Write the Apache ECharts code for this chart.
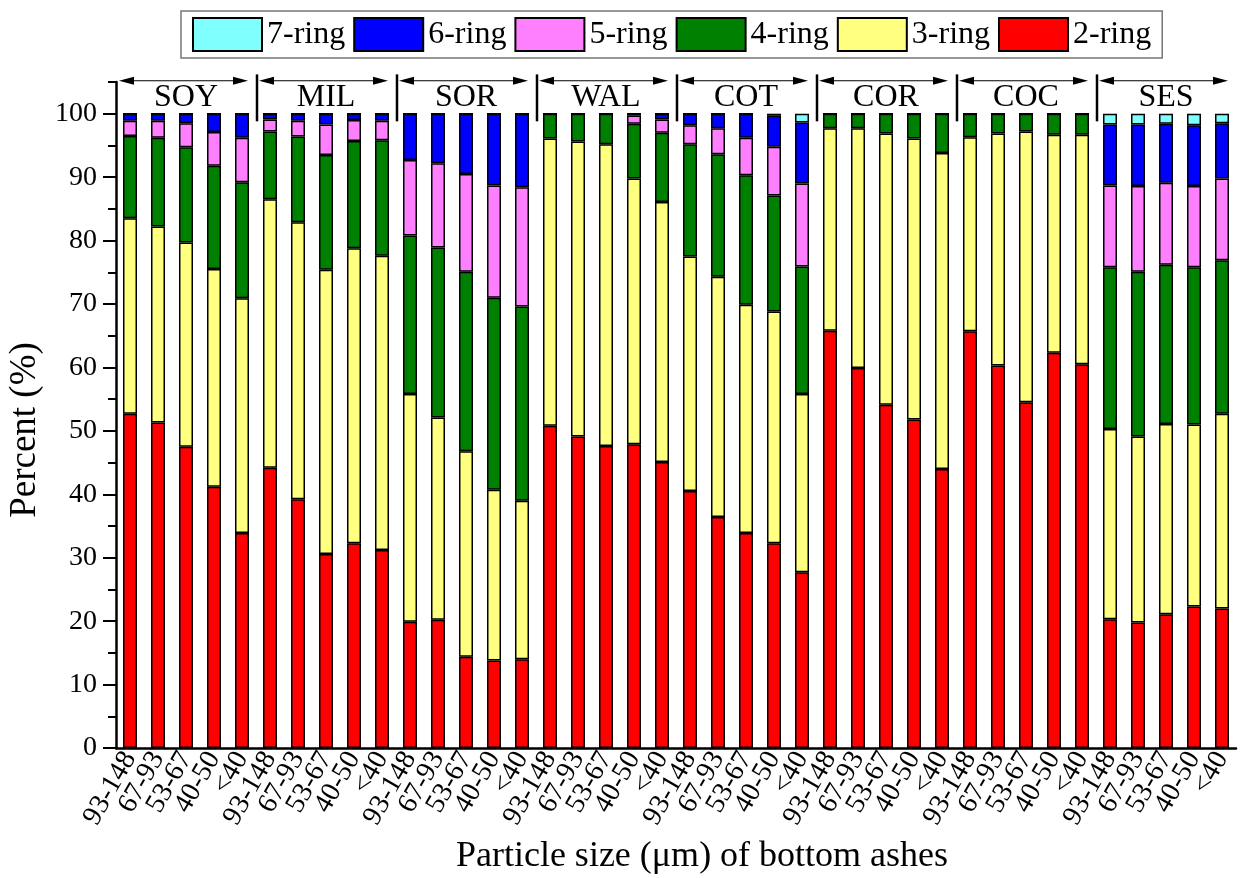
<!DOCTYPE html>
<html>
<head>
<meta charset="utf-8">
<script src="https://cdn.jsdelivr.net/npm/echarts@6/dist/echarts.min.js"></script>
<style>
  html, body { margin: 0; padding: 0; background: #fff; }
  #chart { width: 1241px; height: 878px; }
</style>
</head>
<body>
<div id="chart"></div>
<script>
  // fuel groups and particle size classes (um)
  var groups = ['SOY', 'MIL', 'SOR', 'WAL', 'COT', 'COR', 'COC', 'SES'];
  var sizes = ['93-148', '67-93', '53-67', '40-50', '<40'];
  var yTicks = [0, 10, 20, 30, 40, 50, 60, 70, 80, 90, 100];

  // percent of each ring class, 5 sizes per group, groups in order above
  var ring2 = [52.7, 51.3, 47.5, 41.2, 33.9,  44.2, 39.2, 30.6, 32.3, 31.2,  19.9, 20.2, 14.4, 13.8, 14.0,
               50.8, 49.1, 47.6, 47.9, 45.1,  40.5, 36.4, 33.9, 32.3, 27.7,  65.8, 59.9, 54.1, 51.8, 44.0,
               65.7, 60.3, 54.5, 62.3, 60.5,  20.3, 19.8, 21.1, 22.3, 22.0];
  var ring3 = [30.8, 30.9, 32.2, 34.3, 37.0,  42.3, 43.7, 44.8, 46.5, 46.4,  35.9, 31.9, 32.4, 26.9, 25.0,
               45.3, 46.5, 47.6, 41.9, 41.0,  37.0, 37.9, 36.0, 36.5, 28.1,  31.9, 37.8, 42.8, 44.3, 49.8,
               30.6, 36.6, 42.7, 34.4, 36.2,  30.0, 29.3, 30.0, 28.7, 30.7];
  var ring4 = [13.0, 14.0, 15.0, 16.3, 18.3,  10.7, 13.5, 18.1, 16.9, 18.2,  25.0, 26.8, 28.3, 30.3, 30.6,
                3.9,  4.4,  4.8,  8.6, 10.9,  17.7, 19.3, 20.4, 18.3, 20.1,   2.3,  2.3,  3.1,  3.9,  6.2,
                3.7,  3.1,  2.8,  3.3,  3.3,  25.5, 26.0, 25.1, 24.8, 24.2];
  var ring5 = [ 2.4,  2.7,  3.8,  5.3,  7.0,   1.9,  2.5,  4.8,  3.3,  3.1,  11.9, 13.3, 15.4, 17.7, 18.8,
                0,    0,    0,    1.3,  2.1,   3.0,  4.1,  5.9,  7.7, 13.1,   0,    0,    0,    0,    0,
                0,    0,    0,    0,    0,    12.9, 13.5, 12.9, 12.8, 12.9];
  var ring6 = [ 1.1,  1.1,  1.5,  2.9,  3.8,   0.9,  1.1,  1.7,  1.0,  1.1,   7.3,  7.8,  9.5, 11.3, 11.6,
                0,    0,    0,    0.3,  0.9,   1.8,  2.3,  3.8,  4.9,  9.6,   0,    0,    0,    0,    0,
                0,    0,    0,    0,    0,     9.6,  9.7,  9.3,  9.6,  8.7];
  var ring7 = [ 0,    0,    0,    0,    0,     0,    0,    0,    0,    0,     0,    0,    0,    0,    0,
                0,    0,    0,    0,    0,     0,    0,    0,    0.3,  1.4,   0,    0,    0,    0,    0,
                0,    0,    0,    0,    0,     1.7,  1.7,  1.6,  1.8,  1.5];

  var categories = [];
  groups.forEach(function (g) {
    sizes.forEach(function (s) { categories.push(s); });
  });

  var font = "'Liberation Serif', 'Times New Roman', serif";
  var yTop = 105;

  function barSeries(name, data, color) {
    return {
      name: name,
      type: 'bar',
      stack: 'total',
      barWidth: 14,
      itemStyle: { color: color, borderColor: '#000', borderWidth: 1.5 },
      emphasis: { disabled: true },
      data: data
    };
  }

  // group header: arrow across each group, name below it, divider at right edge
  function renderHeader(params, api) {
    var g = api.value(0);
    var n = sizes.length;
    var band = api.size([1, 0])[0];
    var left = api.coord([g * n, 0])[0] - band / 2;
    var right = api.coord([g * n + n - 1, 0])[0] + band / 2;
    var ya = api.coord([0, 105.2])[1];
    var yt = api.coord([0, 102.6])[1];
    var x0 = left + 3, x1 = right - 8, ah = 15, aw = 4;
    var children = [
      { type: 'line', shape: { x1: x0 + ah, y1: ya, x2: x1 - ah, y2: ya }, style: { stroke: '#000', lineWidth: 1.2 } },
      { type: 'polygon', shape: { points: [[x0, ya], [x0 + ah, ya - aw], [x0 + ah, ya + aw]] }, style: { fill: '#000' } },
      { type: 'polygon', shape: { points: [[x1, ya], [x1 - ah, ya - aw], [x1 - ah, ya + aw]] }, style: { fill: '#000' } },
      { type: 'text', x: (left + right) / 2, y: yt,
        style: { text: groups[g], fontSize: 32, fontFamily: font, fill: '#000', align: 'center', verticalAlign: 'middle' } }
    ];
    if (g < groups.length - 1) {
      children.push({ type: 'line',
        shape: { x1: right + 1, y1: api.coord([0, 106.2])[1], x2: right + 1, y2: api.coord([0, 98.8])[1] },
        style: { stroke: '#000', lineWidth: 2.5 } });
    }
    return { type: 'group', children: children };
  }

  var headerData = groups.map(function (g, i) { return [i, yTop]; });

  var option = {
    backgroundColor: '#fff',
    animation: false,
    textStyle: { fontFamily: font, color: '#000' },
    legend: {
      left: 181,
      top: 11,
      padding: [6, 11, 6, 11],
      borderColor: '#777',
      borderWidth: 1.5,
      icon: 'rect',
      itemWidth: 69,
      itemHeight: 33,
      itemGap: 8,
      selectedMode: false,
      textStyle: { fontSize: 32, fontFamily: font, color: '#000' },
      data: ['7-ring', '6-ring', '5-ring', '4-ring', '3-ring', '2-ring']
    },
    grid: {
      left: 116,
      right: 5,
      top: 82,
      bottom: 130,
      outerBoundsMode: 'none'
    },
    xAxis: {
      type: 'category',
      data: categories,
      name: 'Particle size (\u03bcm) of bottom ashes',
      nameLocation: 'middle',
      nameGap: 91,
      nameTextStyle: { fontSize: 36, fontFamily: font, color: '#000', padding: [0, 0, 0, 52] },
      axisLine: { lineStyle: { color: '#000', width: 2.5 } },
      axisTick: { show: false },
      axisLabel: {
        interval: 0,
        rotate: 60,
        margin: 6,
        fontSize: 28,
        fontFamily: font,
        color: '#000'
      }
    },
    yAxis: [{
      type: 'value',
      min: 0,
      max: yTop,
      interval: 10,
      name: 'Percent (%)',
      nameLocation: 'middle',
      nameGap: 62,
      nameTextStyle: { fontSize: 37, fontFamily: font, color: '#000', padding: [0, 0, 0, -30] },
      axisLine: { show: true, lineStyle: { color: '#000', width: 2.5 } },
      axisTick: { show: true, length: 13, lineStyle: { color: '#000', width: 2 }, customValues: yTicks },
      axisLabel: { fontSize: 28, fontFamily: font, color: '#000', margin: 19, customValues: yTicks },
      splitLine: { show: false }
    }, {
      type: 'value',
      position: 'left',
      min: 0,
      max: yTop,
      interval: 5,
      axisLine: { show: false },
      axisTick: { show: true, length: 8, lineStyle: { color: '#000', width: 2 } },
      axisLabel: { show: false },
      splitLine: { show: false }
    }],
    series: [
      barSeries('2-ring', ring2, '#ff0000'),
      barSeries('3-ring', ring3, '#ffff80'),
      barSeries('4-ring', ring4, '#008000'),
      barSeries('5-ring', ring5, '#ff80ff'),
      barSeries('6-ring', ring6, '#0000ff'),
      barSeries('7-ring', ring7, '#80ffff'),
      {
        type: 'custom',
        name: 'groups',
        renderItem: renderHeader,
        clip: false,
        silent: true,
        encode: { x: 0, y: 1 },
        data: headerData
      }
    ]
  };

  var myChart = echarts.init(document.getElementById('chart'));
  myChart.setOption(option);
</script>
</body>
</html>
